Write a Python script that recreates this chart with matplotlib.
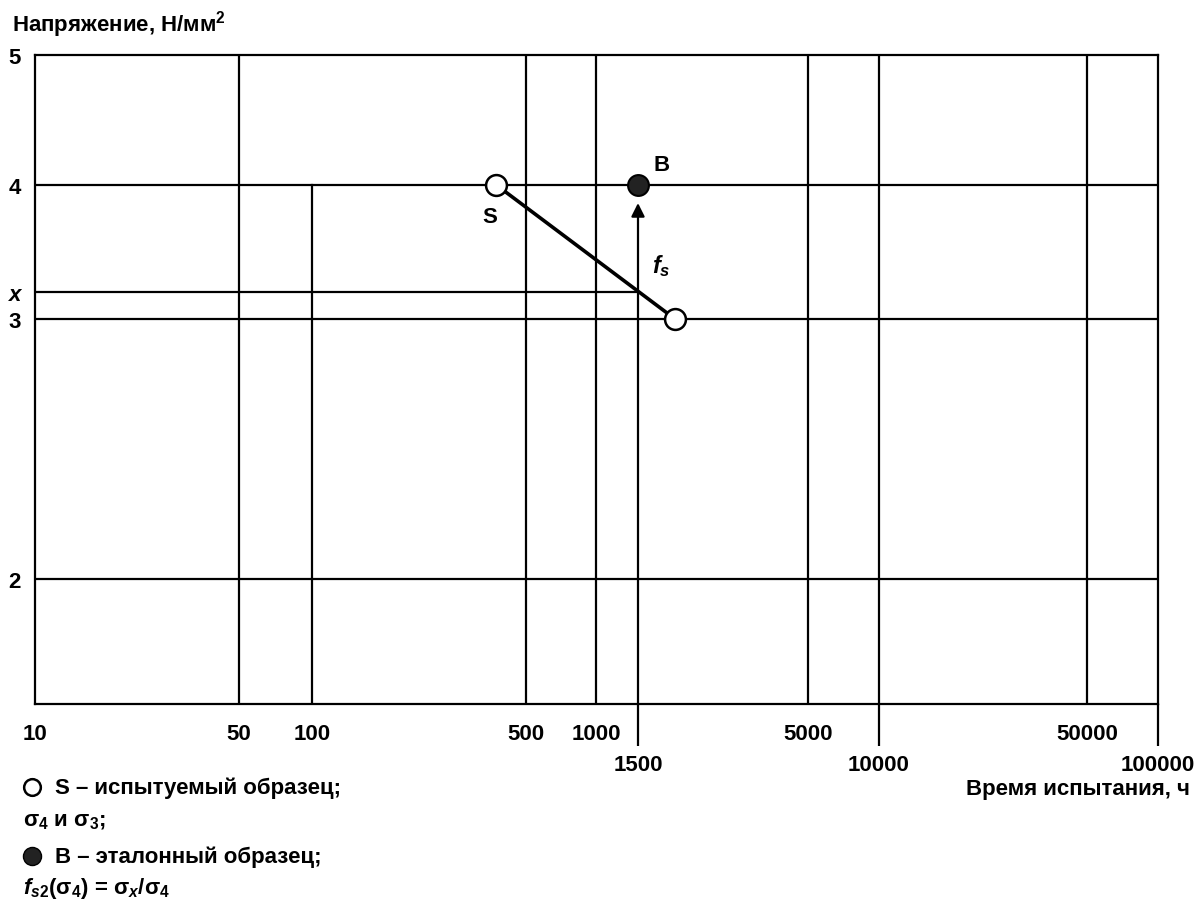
import numpy as np
import matplotlib
matplotlib.use("Agg")
import matplotlib.pyplot as plt

plt.rcParams['font.family'] = ['Liberation Sans', 'DejaVu Sans']
plt.rcParams['font.weight'] = 'bold'
plt.rcParams['mathtext.fontset'] = 'custom'
plt.rcParams['mathtext.rm'] = 'Liberation Sans:bold'
plt.rcParams['mathtext.it'] = 'Liberation Sans:italic:bold'
plt.rcParams['mathtext.bf'] = 'Liberation Sans:bold'

# данные
время_s = [400, 1950]          # испытуемый образец S, ч
напр_s = [4, 3]                # σ4 и σ3, Н/мм2
время_b = [1500]               # эталонный образец B
напр_b = [4]
сигма_x = 3.2
время_стрелки = 1500

метки_нижние = [10, 50, 100, 500, 1000, 5000, 50000]
метки_верхние = [1500, 10000, 100000]
верт_линии = [50, 500, 1000, 5000, 10000, 50000]
гор_линии = [2, 3, 4]
y_метки = [2, 3, сигма_x, 4, 5]
y_подписи = ['2', '3', 'x', '4', '5']

# шкалы схемы: время почти логарифмическое, напряжение неравномерное
_x_узлы = np.log10([10, 50, 100, 500, 1000, 1500, 5000, 10000, 50000, 100000])
_x_поз = [0, 204, 277, 491, 561, 603, 773, 844, 1052, 1123]
_y_узлы = [1, 2, 3, 4, 5]
_y_поз = [-135, 125, 385, 519, 649]


def x_вперед(v):
    return np.interp(np.log10(np.clip(v, 1e-9, None)), _x_узлы, _x_поз)


def x_назад(p):
    return 10 ** np.interp(p, _x_поз, _x_узлы)


def y_вперед(v):
    return np.interp(v, _y_узлы, _y_поз)


def y_назад(p):
    return np.interp(p, _y_поз, _y_узлы)


fs = 16
fig = plt.figure(figsize=(11.97, 9.04), dpi=100)
ax = fig.add_axes([35 / 1197, 1 - 705 / 904, 1123 / 1197, 649 / 904])
ax.set_xscale('function', functions=(x_вперед, x_назад))
ax.set_yscale('function', functions=(y_вперед, y_назад))
ax.set_xlim(10, 100000)
низ = float(y_назад(0))
ax.set_ylim(низ, 5)

lw = 1.6
for x in верт_линии:
    ax.axvline(x, color='k', lw=lw, zorder=1)
ax.plot([100, 100], [низ, 4], color='k', lw=lw, zorder=1)
for y in гор_линии:
    ax.axhline(y, color='k', lw=lw, zorder=1)
ax.plot([10, время_стрелки], [сигма_x, сигма_x], color='k', lw=lw, zorder=1)

ax.annotate('', xy=(время_стрелки, 4), xytext=(время_стрелки, низ),
            arrowprops=dict(arrowstyle='-|>', color='k', lw=lw, shrinkA=0,
                            shrinkB=13, mutation_scale=20), zorder=2)

ax.plot(время_s, напр_s, color='k', lw=2.6, zorder=3)
ax.plot(время_s, напр_s, 'o', ms=15, mfc='white', mec='k', mew=1.8, zorder=4)
ax.plot(время_b, напр_b, 'o', ms=15, mfc='#222222', mec='k', mew=1.5, zorder=4)

ax.annotate('S', xy=(время_s[0], напр_s[0]), xytext=(-5, -23),
            textcoords='offset points', ha='center', va='center', fontsize=fs)
ax.annotate('B', xy=(время_b[0], напр_b[0]), xytext=(17, 15),
            textcoords='offset points', ha='center', va='center', fontsize=fs)
ax.annotate('$f_{s}$', xy=(время_стрелки, 3.39), xytext=(17, 1),
            textcoords='offset points', ha='center', va='center', fontsize=fs + 1)

for s in ax.spines.values():
    s.set_linewidth(lw)

ax.set_xticks(метки_верхние)
ax.set_xticklabels([str(v) for v in метки_верхние])
ax.set_xticks(метки_нижние, minor=True)
ax.set_xticklabels([str(v) for v in метки_нижние], minor=True)
ax.tick_params(axis='x', which='major', length=30, width=lw, pad=6, labelsize=fs)
ax.tick_params(axis='x', which='minor', length=0, pad=14, labelsize=fs)

ax.set_yticks(y_метки)
ax.set_yticklabels(y_подписи)
ax.yaxis.set_minor_locator(matplotlib.ticker.NullLocator())
ax.tick_params(axis='y', length=0, pad=10, labelsize=fs)
for t in ax.get_yticklabels():
    if t.get_text() == 'x':
        t.set_fontstyle('italic')

fig.text(12 / 1197, 1 - 25 / 904, 'Напряжение, Н/мм$^2$', fontsize=fs, va='center')
fig.text(1190 / 1197, 1 - 790 / 904, 'Время испытания, ч', fontsize=fs,
         va='center', ha='right')

ax.plot([32 / 1197], [1 - 788 / 904], 'o', ms=12, mfc='white', mec='k', mew=1.8,
        transform=fig.transFigure, clip_on=False)
ax.plot([32 / 1197], [1 - 857 / 904], 'o', ms=13, mfc='#222222', mec='k',
        transform=fig.transFigure, clip_on=False)
fig.text(55 / 1197, 1 - 788 / 904, 'S – испытуемый образец;', fontsize=fs, va='center')
fig.text(23 / 1197, 1 - 822 / 904, 'σ$_4$ и σ$_3$;', fontsize=fs, va='center')
fig.text(55 / 1197, 1 - 857 / 904, 'B – эталонный образец;', fontsize=fs, va='center')
fig.text(23 / 1197, 1 - 889 / 904, '$f_{s2}$(σ$_4$) = σ$_x$/σ$_4$', fontsize=fs, va='center')

fig.savefig('out.png', dpi=100)
